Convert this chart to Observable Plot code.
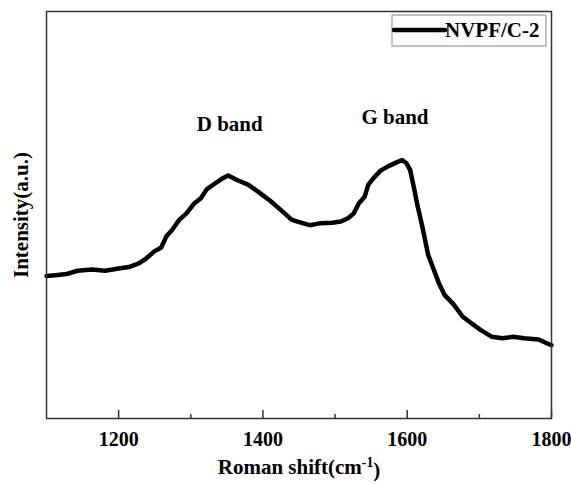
<!DOCTYPE html>
<html>
<head>
<meta charset="utf-8">
<script src="https://cdn.jsdelivr.net/npm/d3@7"></script>
<script src="https://cdn.jsdelivr.net/npm/@observablehq/plot@0.6"></script>
<style>
  html, body { margin: 0; padding: 0; background: #fff; }
  svg { font-family: "Liberation Serif", "Times New Roman", serif; }
</style>
</head>
<body>
<div id="chart"></div>
<script>
// Raman shift (cm^-1)
const shift = [1100, 1112, 1128, 1143, 1163, 1181, 1198, 1216, 1228, 1238, 1249, 1259, 1266, 1274, 1284, 1294, 1304, 1314, 1322, 1334, 1344, 1352, 1364, 1380, 1395, 1410, 1425, 1440, 1455, 1465, 1480, 1496, 1508, 1518, 1526, 1533, 1541, 1546, 1553, 1563, 1574, 1586, 1593, 1599, 1604, 1609, 1614, 1621, 1629, 1637, 1644, 1652, 1664, 1677, 1689, 1702, 1717, 1732, 1747, 1762, 1782, 1792, 1800];
// Intensity (a.u.)
const intensity = [35.0, 35.2, 35.5, 36.3, 36.6, 36.3, 36.8, 37.3, 38.1, 39.3, 41.0, 42.0, 44.7, 46.3, 48.8, 50.4, 52.7, 54.1, 56.3, 57.8, 59.0, 59.7, 58.6, 57.4, 55.5, 53.5, 51.2, 48.8, 48.0, 47.5, 48.0, 48.1, 48.4, 49.2, 50.4, 52.9, 54.5, 57.4, 59.0, 60.9, 62.0, 63.0, 63.5, 62.7, 61.1, 57.0, 52.5, 47.1, 40.2, 36.5, 33.2, 30.3, 28.1, 25.0, 23.4, 21.7, 20.1, 19.7, 20.1, 19.7, 19.4, 18.6, 18.0];
const majorTicks = [1200, 1400, 1600, 1800];
const minorTicks = [1300, 1500, 1700];
const bandLabels = ["D band", "G band"];
const bandX = [1354, 1583];
const bandY = [72.4, 74.0];
const seriesName = "NVPF/C-2";

const data = shift.map((x, i) => ({x, y: intensity[i]}));
const bands = bandLabels.map((t, i) => ({t, x: bandX[i], y: bandY[i]}));

const font = "Liberation Serif";
const plot = Plot.plot({
  width: 571,
  height: 484,
  marginLeft: 46,
  marginRight: 20,
  marginTop: 11,
  marginBottom: 66,
  style: {fontFamily: font, background: "#fff"},
  x: {domain: [1100, 1800], axis: null},
  y: {domain: [0, 100], axis: null},
  marks: [
    Plot.line(data, {x: "x", y: "y", stroke: "#000", strokeWidth: 4.5, strokeLinejoin: "round", strokeLinecap: "round"}),
    Plot.ruleX(majorTicks, {x: d => d, y1: 0, y2: 0, insetTop: -8, stroke: "#333", strokeWidth: 1.5}),
    Plot.ruleX(minorTicks, {x: d => d, y1: 0, y2: 0, insetTop: -4, stroke: "#333", strokeWidth: 1.5}),
    Plot.frame({stroke: "#333", strokeWidth: 1.5}),
    Plot.axisX({ticks: majorTicks, tickSize: 0, tickPadding: 13, fontSize: 20, fontWeight: "bold", fill: "#000", label: null, tickFormat: d => String(d)}),
    Plot.text(bands, {x: "x", y: "y", text: "t", fontSize: 21, fontWeight: "bold", fill: "#000"}),
    Plot.text(["Roman shift(cm-1)"], {frameAnchor: "bottom", dy: 55, fontSize: 21, fontWeight: "bold", fill: "#000", className: "xlabel"}),
    Plot.text(["Intensity(a.u.)"], {frameAnchor: "left", textAnchor: "middle", rotate: -90, dx: -25, fontSize: 21, fontWeight: "bold", fill: "#000"})
  ]
});
document.getElementById("chart").appendChild(plot);

// superscript in x label
const svg = d3.select(plot);
svg.selectAll("g.xlabel text").each(function() {
  const t = d3.select(this);
  t.text(null);
  t.append("tspan").text("Roman shift(cm");
  t.append("tspan").attr("dy", "-0.45em").attr("font-size", "0.65em").text("-1");
  t.append("tspan").attr("dy", "0.45em").text(")");
});

// legend inside top-right of frame
const lg = svg.append("g");
lg.append("rect").attr("x", 392).attr("y", 15).attr("width", 154).attr("height", 31)
  .attr("fill", "#fff").attr("stroke", "#888").attr("stroke-width", 1);
lg.append("line").attr("x1", 394).attr("x2", 445).attr("y1", 30).attr("y2", 30)
  .attr("stroke", "#000").attr("stroke-width", 4.5).attr("stroke-linecap", "round");
lg.append("text").attr("x", 445).attr("y", 37).attr("font-family", font)
  .attr("text-anchor", "start")
  .attr("font-size", 21).attr("font-weight", "bold").attr("fill", "#000").text(seriesName);
</script>
</body>
</html>
